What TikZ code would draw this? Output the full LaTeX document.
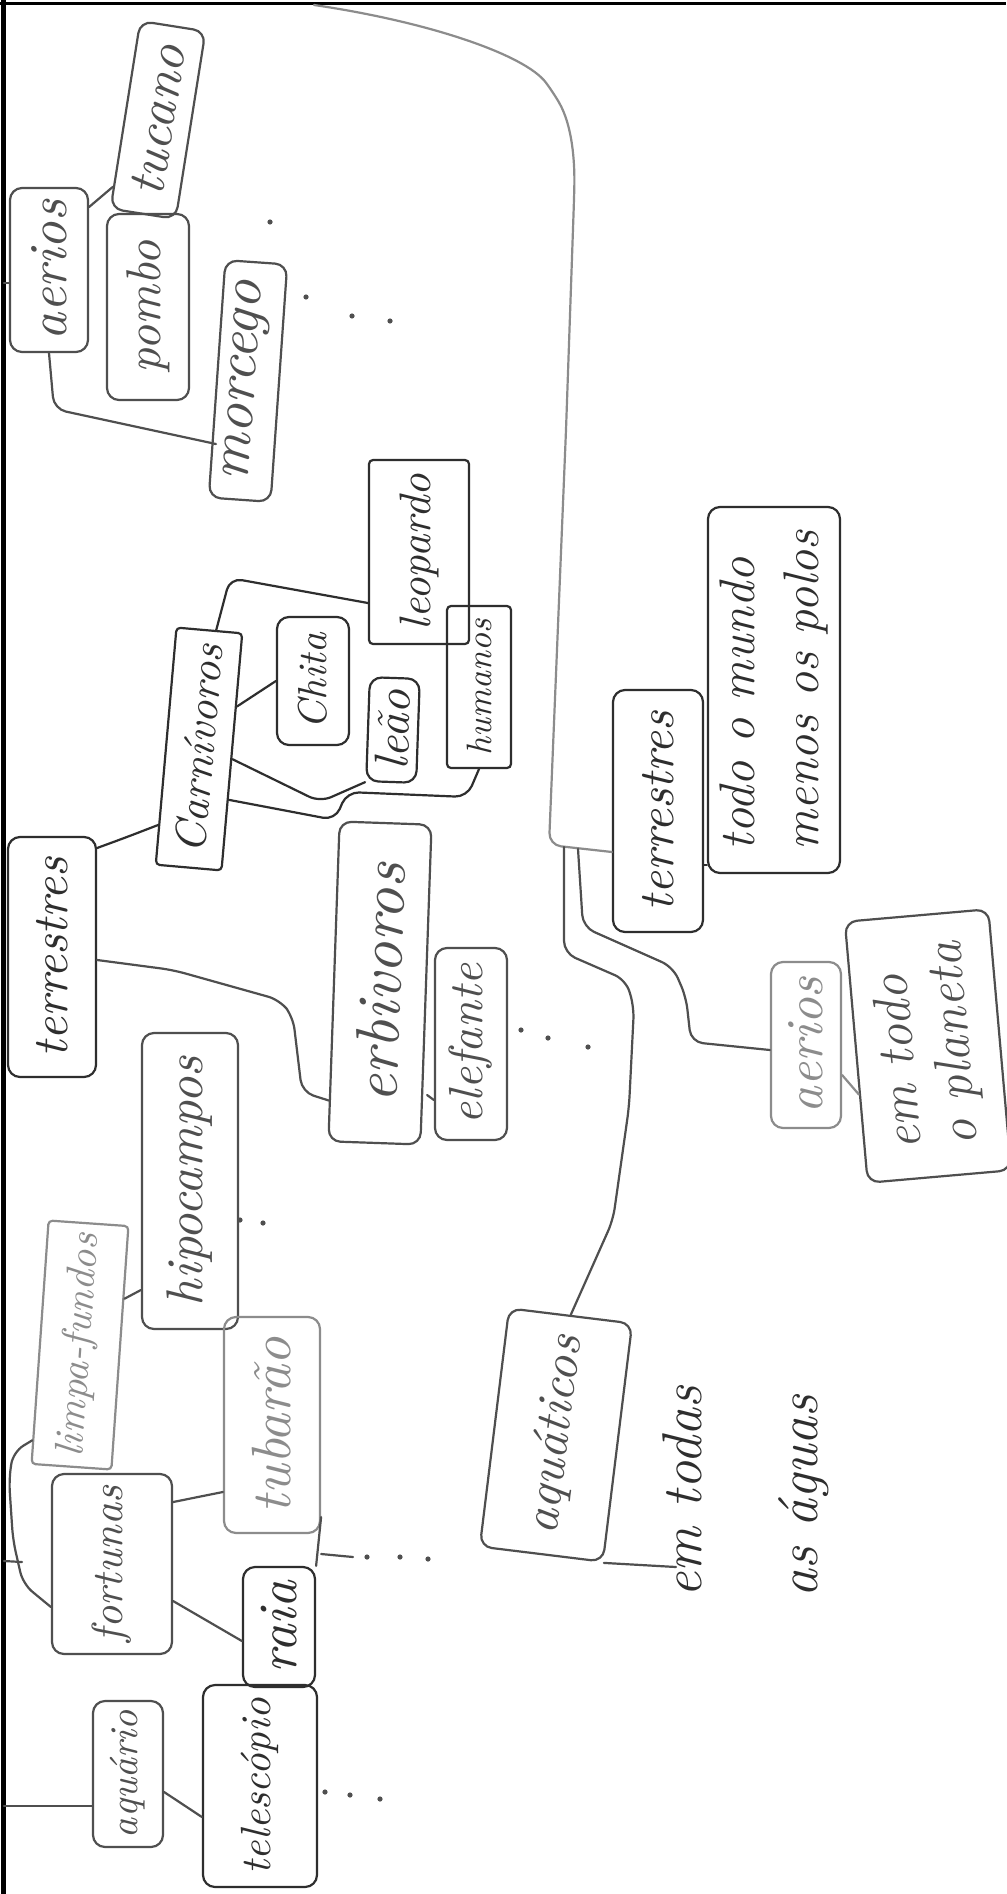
\documentclass[tikz,border=0pt]{standalone}
\usepackage{fontspec}
\usepackage{graphicx}
\usetikzlibrary{calc}
\definecolor{pen}{HTML}{4F4F4F}
\definecolor{darkpen}{HTML}{2E2E2E}
\definecolor{lightpen}{HTML}{8C8C8C}
\newcommand{\hw}[2]{\resizebox{#1pt}{!}{#2}}
\begin{document}
\begin{tikzpicture}[x=0.5pt,y=-0.5pt,
  box/.style={draw=pen, text=pen, line width=1.1pt, rounded corners=6pt, inner sep=0pt, font=\itshape},
  sharpish/.style={rounded corners=2pt},
  dark/.style={draw=darkpen, text=darkpen},
  light/.style={draw=lightpen, text=lightpen},
  textonly/.style={text=darkpen, inner sep=0pt},
  conn/.style={draw=pen, line width=1.1pt, line cap=round, line join=round, rounded corners=6pt},
  dconn/.style={conn, draw=darkpen},
  lconn/.style={conn, draw=lightpen},
  speck/.style={fill=pen, draw=none}
]
\fill[white] (0,0) rectangle (1006,1894);
\useasboundingbox (0,0) rectangle (1006,1894);
% scan frame
\draw[black, line width=2.5pt] (3,0) -- (3,1894);
\draw[black, line width=1.5pt] (0,4) -- (1006,4);

% free ends
\coordinate (ctop) at (314,5);
\coordinate (f1) at (4,283);
\coordinate (f2) at (4,1561);
\coordinate (f2b) at (22,1562);
\coordinate (f3) at (4,1806);
\coordinate (j1) at (564,847);
\coordinate (j2) at (578,849);
\coordinate (s2) at (353,1557);
\coordinate (e1) at (676,1567);

% top-left cluster
\node[box, rotate=90, minimum width=82pt, minimum height=39pt] (aerTL) at (49,270) {\hw{70}{aerios}};
\node[box, rotate=81, minimum width=95pt, minimum height=33pt] (tucano) at (158,120) {\hw{76}{tucano}};
\node[box, rotate=90, minimum width=93pt, minimum height=41pt] (pombo) at (148,307) {\hw{66}{pombo}};
\node[box, rotate=86, minimum width=119pt, minimum height=31pt] (morcego) at (248,381) {\hw{100}{morcego}};

% carnivores cluster
\node[box, dark, sharpish, rotate=90, minimum width=92pt, minimum height=50pt] (leopardo) at (419,552) {\hw{78}{leopardo}};
\node[box, dark, sharpish, rotate=85, minimum width=119pt, minimum height=33pt] (carn) at (199,749) {\hw{105}{Carnívoros}};
\node[box, dark, rotate=90, minimum width=64pt, minimum height=36pt] (chita) at (313,681) {\hw{48}{Chita}};
\node[box, dark, rotate=88, minimum width=52pt, minimum height=25pt] (leao) at (393,730) {\hw{40}{leão}};
\node[box, dark, sharpish, rotate=90, minimum width=81pt, minimum height=32pt] (humanos) at (479,687) {\hw{68}{humanos}};

% terrestres (left) and herbivores
\node[box, dark, rotate=90, minimum width=120pt, minimum height=44pt] (terrL) at (52,957) {\hw{100}{terrestres}};
\node[box, rotate=88, minimum width=160pt, minimum height=46pt] (erb) at (380,983) {\hw{120}{erbivoros}};
\node[box, rotate=90, minimum width=96pt, minimum height=36pt] (elef) at (471,1044) {\hw{80}{elefante}};

% aquatic animals (left bottom)
\node[box, rotate=90, minimum width=148pt, minimum height=48pt] (hipo) at (190,1181) {\hw{125}{hipocampos}};
\node[box, light, sharpish, rotate=86, minimum width=122pt, minimum height=40pt] (limpa) at (80,1345) {\hw{112}{limpa-fundos}};
\node[box, rotate=90, minimum width=90pt, minimum height=60pt] (fortunas) at (112,1564) {\hw{78}{fortunas}};
\node[box, light, rotate=90, minimum width=108pt, minimum height=48pt] (tubarao) at (272,1425) {\hw{88}{tubarão}};
\node[box, dark, rotate=90, minimum width=60pt, minimum height=36pt] (raia) at (279,1627) {\hw{46}{raia}};
\node[box, dark, rotate=90, minimum width=101pt, minimum height=57pt] (telesc) at (260,1786) {\hw{88}{telescópio}};
\node[box, rotate=90, minimum width=73pt, minimum height=35pt] (aquario) at (128,1774) {\hw{64}{aquário}};

% aquaticos
\node[box, rotate=83, minimum width=120pt, minimum height=62pt] (aquat) at (556,1435) {\hw{100}{aquáticos}};
\node[textonly, rotate=90, align=left, font=\itshape\fontsize{28}{58}\selectfont] (emtodas) at (746,1492) {em todas\\as águas};

% right cluster
\node[box, dark, rotate=90, minimum width=121pt, minimum height=45pt] (terrR) at (658,811) {\hw{100}{terrestres}};
\node[box, dark, rotate=90, minimum width=183pt, minimum height=66pt, align=left, font=\itshape\fontsize{25}{32}\selectfont] (todo) at (774,690) {todo o mundo\\menos os polos};
\node[box, light, rotate=90, minimum width=83pt, minimum height=35pt] (aerR) at (806,1045) {\hw{68}{aerios}};
\node[box, rotate=95, minimum width=131pt, minimum height=72pt, align=left, font=\itshape\fontsize{26}{28}\selectfont] (emtodo) at (928,1046) {em todo\\o planeta};

% connectors: top-left cluster
\draw[conn] (f1) -- (aerTL.north |- 0,283);
\draw[conn] (aerTL.south |- 0,207) -- ($(tucano.north west)!0.12!(tucano.north east)$);
\draw[conn] (aerTL.west) -- (54,409) -- (morcego.north |- 0,444);

% main curve to the right-hand branches
\draw[lconn] (ctop) .. controls (430,22) and (525,55) .. (553,92)
  .. controls (572,125) and (575,160) .. (574,200) -- (566,430) -- (549,845) -- (terrR.north |- 0,852);
\draw[conn] (j1) -- (564,953) -- (626,980) -- (634,1007) -- (629,1107) -- (613,1220) -- (aquat.east);
\draw[conn] (j2) -- (583,927) -- (673,967) -- (686,997) -- (691,1042) -- (aerR.north |- 0,1050);
\draw[dconn] (terrR.south |- 0,865) -- (todo.north |- 0,865);
\draw[lconn] (aerR.south |- 0,1075) -- ($(emtodo.north west)!0.34!(emtodo.north east)$);

% terrestres (left) branches
\draw[dconn] (terrL.south |- 0,848) -- (127,837) -- ($(carn.north west)!0.17!(carn.north east)$);
\draw[conn] (terrL.south |- 0,960) -- (173,970) -- (280,1000) -- (293,1017) -- (302,1092) -- ($(erb.north west)!0.13!(erb.north east)$);
\draw[dconn] ($(carn.north east)!0.6!(carn.south east)$) -- (230,578) -- (leopardo.north |- 0,603);
\draw[dconn] ($(carn.south west)!0.69!(carn.south east)$) -- (chita.north);
\draw[dconn] ($(carn.south west)!0.47!(carn.south east)$) -- (320,802) -- (leao.north west);
\draw[dconn] ($(carn.south west)!0.3!(carn.south east)$) -- (335,820) -- (347,792) -- (467,797) -- (humanos.west);
\draw[conn] (erb.south |- 0,1095) -- (elef.north |- 0,1100);

% aquatic (left bottom) branches
\draw[conn] ($(limpa.south west)!0.7!(limpa.south east)$) -- (hipo.north |- 0,1290);
\draw[conn] (fortunas.north |- 0,1607) -- (23,1584) -- (13,1540) -- (9,1480) -- (13,1452) -- ($(limpa.north west)!0.1!(limpa.north east)$);
\draw[conn] (f2) -- (f2b);
\draw[conn] (fortunas.south |- 0,1502) -- (tubarao.north |- 0,1492);
\draw[conn] (fortunas.south |- 0,1601) -- (raia.north |- 0,1641);
\draw[conn] (tubarao.south |- 0,1517) -- (raia.south east);
\draw[conn] (tubarao.south |- 0,1554) -- (s2);
\draw[conn] (f3) -- (aquario.north |- 0,1806);
\draw[conn] (aquario.south |- 0,1792) -- (telesc.north |- 0,1817);
\draw[conn] (aquat.south west) -- (e1);

% pencil specks
\foreach \p in {(367,1557),(400,1557),(428,1559),(325,1792),(350,1795),(380,1799),
  (270,222),(306,297),(352,316),(390,321),(240,1220),(263,1223),(521,1030),(548,1038),(588,1047)}
  \fill[speck] \p circle[radius=1.3pt];
\end{tikzpicture}
\end{document}
